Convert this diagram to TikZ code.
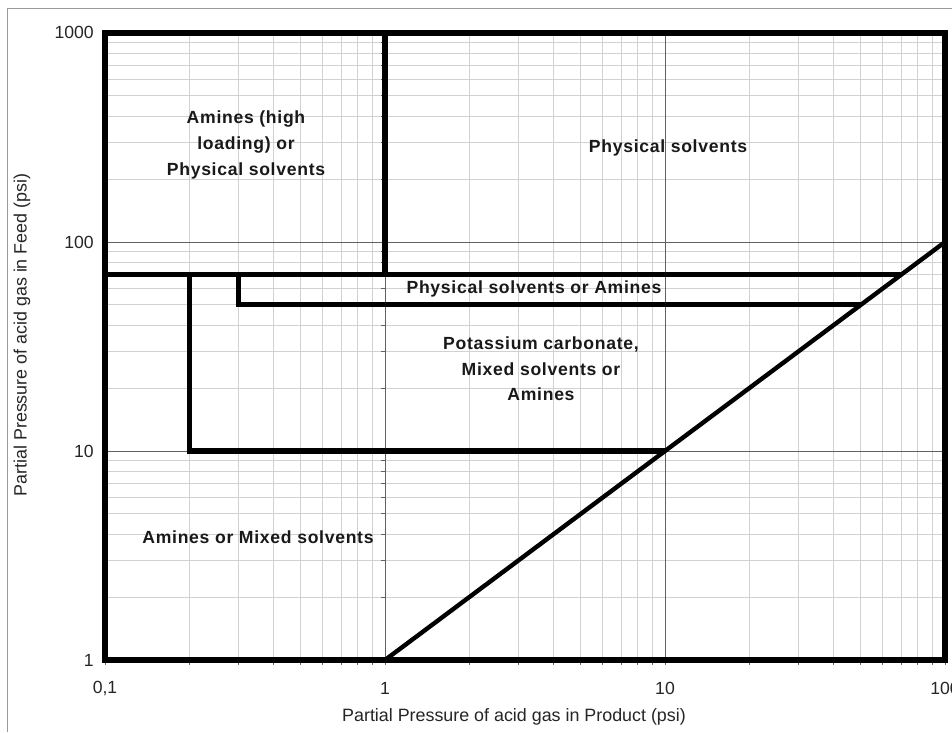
\documentclass[tikz,border=0pt]{standalone}
\usepackage{fontspec}
\setmainfont{Liberation Sans}
\newfontfamily\regionfont[LetterSpace=4]{Liberation Sans}
\begin{document}
\begin{tikzpicture}[x=0.75pt,y=-0.75pt,
  declare function={X(\v)=105+280*(log10(\v)+1); Y(\v)=660-209*log10(\v);},
  minorgrid/.style={draw=black!18,line width=0.75pt},
  majorgrid/.style={draw=black!62,line width=0.75pt},
  tickmark/.style={draw=black!62,line width=0.75pt},
  heavy/.style={draw=black,line width=3.8pt,line join=miter},
  diag/.style={draw=black,line width=3.3pt},
  region/.style={font=\regionfont\bfseries\fontsize{13.2}{19.2}\selectfont,align=center,inner sep=0pt,text=black!90},
  axislab/.style={font=\fontsize{13.4}{15}\selectfont,inner sep=0pt,text=black!85},
  ticklab/.style={font=\fontsize{13.2}{15}\selectfont,inner sep=0pt,text=black!85}]
\useasboundingbox (0,0) rectangle (952,732);
\clip (0,0) rectangle (952,732);
\fill[white] (0,0) rectangle (952,732);
% outer border
\draw[black!40,line width=0.75pt] (7,732) -- (7,8) -- (952,8);
% minor grid
\foreach \d in {0,1,2}{
  \foreach \k in {2,...,9}{
    \draw[minorgrid] ({105+280*(\d+log10(\k))},33) -- ({105+280*(\d+log10(\k))},660);
    \draw[minorgrid] (105,{660-209*(\d+log10(\k))}) -- (945,{660-209*(\d+log10(\k))});
    \draw[tickmark] ({105+280*(\d+log10(\k))},660) -- ({105+280*(\d+log10(\k))},665);
    \draw[tickmark] (385,{660-209*(\d+log10(\k))}) -- (381,{660-209*(\d+log10(\k))});
  }
}
% major grid
\foreach \px in {385,665}{
  \draw[majorgrid] (\px,33) -- (\px,665);
}
\foreach \py in {242,451}{
  \draw[majorgrid] (105,\py) -- (945,\py);
}
\draw[tickmark] (105,660) -- (105,665);
\draw[tickmark] (945,660) -- (945,665);
% frame and region boundaries
\draw[heavy] (105,33) rectangle (945,660);
\draw[heavy] (385,33) -- (385,{Y(70)});
\draw[heavy] (105,{Y(70)}) -- ({X(70)},{Y(70)});
\draw[heavy] ({X(0.2)},{Y(70)}) -- ({X(0.2)},451) -- (665,451);
\draw[heavy] ({X(0.3)},{Y(70)}) -- ({X(0.3)},{Y(50)}) -- ({X(50)},{Y(50)});
\draw[diag] (385,660) -- (945,242);
% region labels
\node[region] (amhigh) at (246,145) {Amines (high\\loading) or\\Physical solvents};
\node[region] (phys) at (668,148) {Physical solvents};
\node[region] (physam) at (534,289) {Physical solvents or Amines};
\node[region] (potas) at (541,369) {Potassium carbonate,\\Mixed solvents or\\Amines};
\node[region] (ammix) at (258,537) {Amines or Mixed solvents};
% tick labels
\node[ticklab,anchor=east] (y1000) at (94,32) {1000};
\node[ticklab,anchor=east] (y100) at (94,242) {100};
\node[ticklab,anchor=east] (y10) at (94,451) {10};
\node[ticklab,anchor=east] (y1) at (94,660) {1};
\node[ticklab] (x01) at (105,688) {0,1};
\node[ticklab] (x1) at (385,688) {1};
\node[ticklab] (x10) at (665,688) {10};
\node[ticklab] (x100) at (945,688) {100};
% axis titles
\node[axislab] (xtitle) at (514,717) {Partial Pressure of acid gas in Product (psi)};
\node[axislab,rotate=90] (ytitle) at (22,335) {Partial Pressure of acid gas in Feed (psi)};
\end{tikzpicture}
\end{document}
